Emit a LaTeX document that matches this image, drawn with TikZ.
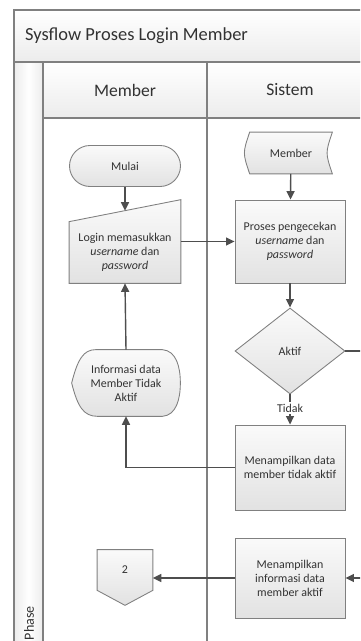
\documentclass[tikz,border=0pt]{standalone}
\usepackage{fontspec}
\setmainfont{Carlito}
\usepackage{tikz}
\usetikzlibrary{arrows.meta,positioning,shapes.geometric,calc,backgrounds}
\usepackage{xcolor}
\definecolor{framegray}{RGB}{128,128,128}
\definecolor{linegray}{RGB}{78,78,78}
\definecolor{textgray}{RGB}{50,50,50}
\definecolor{filltop}{RGB}{250,250,250}
\definecolor{fillbot}{RGB}{226,226,226}
\definecolor{bandgray}{RGB}{236,236,236}
\tikzset{
  nodetext/.style={rectangle, inner sep=1pt, align=center, text=textgray,
                   font=\fontsize{6.8}{8}\selectfont},
  shapefill/.style={draw=framegray, line width=0.5pt, top color=filltop, bottom color=fillbot},
  proc/.style={nodetext, shapefill, minimum width=2.2cm, minimum height=1.66cm},
  terminal/.style={nodetext, shapefill, rounded corners=0.41cm,
                   minimum width=2.22cm, minimum height=0.82cm},
  decision/.style={nodetext, shapefill, diamond, aspect=1.28, inner sep=0pt,
                   minimum width=2.2cm, minimum height=1.72cm},
  band/.style={draw=framegray, line width=0.6pt, top color=white, bottom color=bandgray},
  lanehead/.style={font=\fontsize{10}{12}\selectfont, text=textgray},
  arrow/.style={-{Triangle[length=1.7mm,width=1.6mm]}, line width=0.8pt, linegray},
}

\begin{document}
\begin{tikzpicture}[x=0.02cm, y=-0.02cm]
\useasboundingbox (0,0) rectangle (360,641);
\clip (0,0) rectangle (360,641);
% swimlane frame
\path[band] (14,10) rectangle (390,62);
\path[band] (43,62) rectangle (390,118);
\path[draw=framegray, line width=0.6pt, left color=bandgray, right color=bandgray, middle color=white]
  (14,62) rectangle (43,670);
\draw[framegray, line width=0.6pt] (43,118) -- (43,670);
\draw[framegray, line width=0.6pt] (207,62) -- (207,670);
\node[lanehead, anchor=west, font=\fontsize{10.5}{12}\selectfont] (judul) at (19,36) {Sysflow Proses Login Member};
\node[lanehead] (hmember) at (125,90) {Member};
\node[lanehead] (hsistem) at (290,90) {Sistem};
\node[lanehead, rotate=90, anchor=east, font=\fontsize{8}{10}\selectfont] (fase) at (29,600) {Phase};

% flow nodes
\node[terminal] (mulai) at (125,166) {Mulai};
\node[nodetext, minimum width=2.22cm, minimum height=1.22cm] (login) at (125,252.5)
  {Login memasukkan\\ \textit{username} dan\\ \textit{password}};
\node[nodetext, minimum width=1.64cm, minimum height=0.82cm] (datamember) at (291,153) {Member};
\node[proc] (proses) at (290,241.5) {Proses pengecekan\\ \textit{username} dan\\ \textit{password}};
\node[decision] (aktif) at (290,351) {Aktif};
\node[proc, minimum height=1.7cm] (tdkaktif) at (290,467.5) {Menampilkan data\\ member tidak aktif};
\node[nodetext, minimum width=2.16cm, minimum height=1.32cm] (info) at (126,383)
  {Informasi data\\ Member Tidak\\ Aktif};
\node[proc, minimum height=1.6cm] (infaktif) at (290,578) {Menampilkan\\ informasi data\\ member aktif};
\node[nodetext, minimum width=1.1cm, minimum height=0.8cm] (konektor) at (125,570) {2};
\coordinate (belok) at (368,351);

% outlines of the custom shapes
\begin{scope}[on background layer]
\path[shapefill] (login.north west) -- (login.south west) -- (login.south east)
  -- ($(login.north east)+(0,-22)$) -- cycle;
\path[shapefill] (datamember.north west) .. controls ($(datamember.west)+(-7,0)$) .. (datamember.south west)
  -- (datamember.south east) .. controls ($(datamember.east)+(-7,0)$) .. (datamember.north east) -- cycle;
\path[shapefill] (info.west) .. controls ($(info.west)+(6,-24)$) and ($(info.north west)+(12,0)$) .. ($(info.north west)+(24,0)$)
  -- ($(info.north east)+(-18,0)$) .. controls ($(info.north east)+(-4,1)$) and ($(info.east)+(0,-16)$) .. (info.east)
  .. controls ($(info.east)+(0,16)$) and ($(info.south east)+(-4,-1)$) .. ($(info.south east)+(-18,0)$)
  -- ($(info.south west)+(26,0)$) .. controls ($(info.south west)+(12,0)$) and ($(info.west)+(6,24)$) .. (info.west) -- cycle;
\path[shapefill] (konektor.north west) -- (konektor.north east) -- (konektor.south east)
  -- ($(konektor.south)+(0,15)$) -- (konektor.south west) -- cycle;
\end{scope}

% connectors
\draw[arrow] (mulai.south) -- ($(login.north)+(0,-11)$);
\draw[arrow] (login.east |- proses.west) -- (proses.west);
\draw[arrow] (datamember) -- (proses);
\draw[arrow] (proses) -- (aktif);
\draw[arrow] (aktif.south) -- node[nodetext, fill=white, pos=0.45] (tidak) {Tidak} (tdkaktif.north);
\draw[arrow] (tdkaktif.west) -| (info.south);
\draw[arrow] (info.north) -- (login.south);
\draw[arrow] (aktif.east) -- (belok) |- (infaktif.east);
\draw[arrow] (infaktif.west) -- (infaktif.west -| konektor.east);
\end{tikzpicture}
\end{document}
